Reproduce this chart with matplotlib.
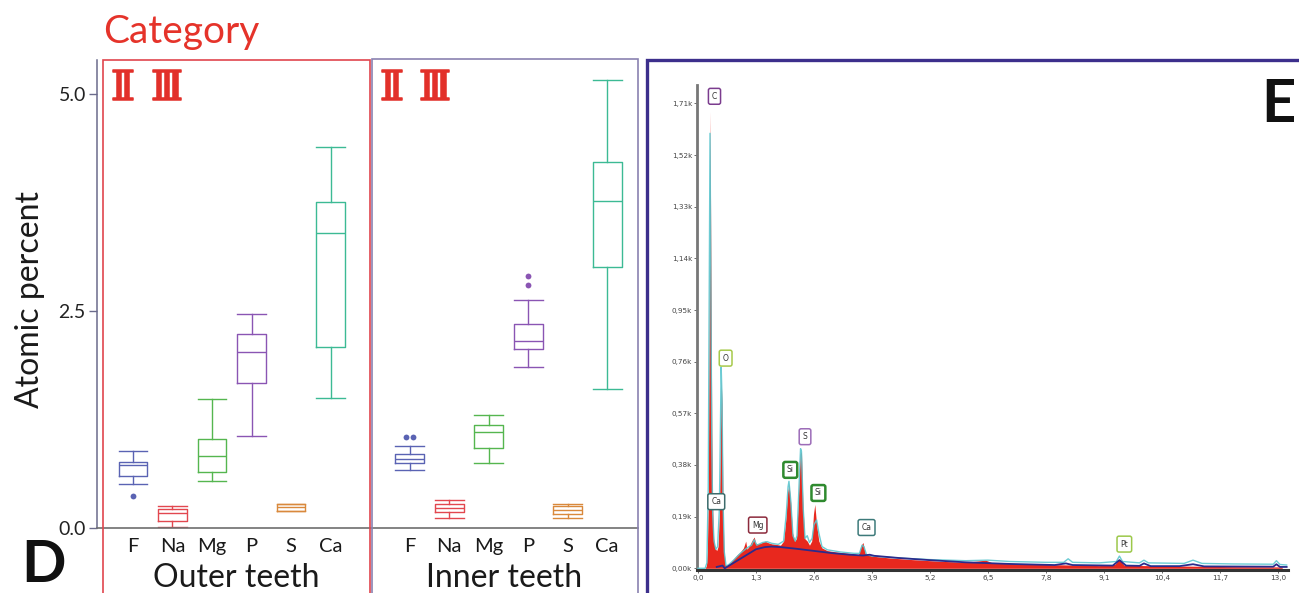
import matplotlib
matplotlib.use("Agg")
import matplotlib.pyplot as plt
import matplotlib.patheffects as pe
from matplotlib.patches import Rectangle

# ---------------------------------------------------------------- data
elements = ["F", "Na", "Mg", "P", "S", "Ca"]
groups = ["Outer teeth", "Inner teeth"]
element_colors = ["#5a63b3", "#e2474f", "#55b64f", "#8a55b3", "#d9893c", "#3cba94"]

# atomic percent box statistics, outer teeth
outer_lo = [0.51, 0.015, 0.54, 1.06, 0.20, 1.50]
outer_q1 = [0.60, 0.08, 0.64, 1.67, 0.20, 2.09]
outer_med = [0.73, 0.17, 0.83, 2.03, 0.24, 3.40]
outer_q3 = [0.76, 0.22, 1.03, 2.23, 0.28, 3.76]
outer_hi = [0.89, 0.25, 1.49, 2.46, 0.28, 4.39]
outer_fliers = [[0.37], [], [], [], [], []]

# atomic percent box statistics, inner teeth
inner_lo = [0.67, 0.11, 0.75, 1.85, 0.11, 1.60]
inner_q1 = [0.745, 0.18, 0.92, 2.06, 0.16, 3.01]
inner_med = [0.79, 0.23, 1.10, 2.15, 0.21, 3.77]
inner_q3 = [0.85, 0.28, 1.19, 2.35, 0.25, 4.21]
inner_hi = [0.95, 0.32, 1.30, 2.63, 0.28, 5.16]
inner_fliers = [[1.045, 1.045], [], [], [2.80, 2.90], [], []]

y_ticks = [0.0, 2.5, 5.0]
y_ticklabels = ["0.0", "2.5", "5.0"]
category_marks = ["\u2161", "\u2162"]

# EDS spectrum (energy in keV, counts in thousands)
meas_keV = [0.00, 0.16, 0.19, 0.21, 0.23, 0.25, 0.27, 0.29, 0.31, 0.33, 0.35, 0.38,
            0.42, 0.45, 0.48, 0.50, 0.52, 0.54, 0.56, 0.58, 0.61, 0.65, 0.72, 0.80,
            0.88, 0.95, 1.02, 1.07, 1.10, 1.16, 1.22, 1.26, 1.30, 1.40, 1.50, 1.56,
            1.65, 1.75, 1.85, 1.92, 1.97, 2.01, 2.04, 2.08, 2.12, 2.17, 2.21, 2.25,
            2.29, 2.32, 2.35, 2.39, 2.45, 2.50, 2.55, 2.59, 2.62, 2.66, 2.71, 2.78,
            2.90, 3.10, 3.40, 3.60, 3.66, 3.70, 3.75, 3.90, 4.30, 4.80, 5.40, 6.00,
            6.45, 6.60, 7.20, 7.80, 8.40, 9.00, 9.35, 9.45, 9.55, 10.0, 11.0, 12.0,
            13.1]
meas_k = [0.000, 0.000, 0.010, 0.060, 0.250, 0.900, 1.680, 1.100, 0.500, 0.220, 0.110, 0.075,
          0.065, 0.080, 0.200, 0.450, 0.700, 0.600, 0.250, 0.080, 0.015, 0.010, 0.020, 0.035,
          0.050, 0.060, 0.075, 0.100, 0.070, 0.085, 0.105, 0.115, 0.090, 0.092, 0.100, 0.095,
          0.090, 0.088, 0.085, 0.100, 0.180, 0.280, 0.310, 0.240, 0.130, 0.100, 0.110, 0.250,
          0.420, 0.430, 0.250, 0.110, 0.100, 0.085, 0.100, 0.200, 0.235, 0.160, 0.100, 0.075,
          0.065, 0.060, 0.055, 0.050, 0.085, 0.095, 0.055, 0.045, 0.038, 0.032, 0.026, 0.022,
          0.030, 0.020, 0.017, 0.014, 0.012, 0.010, 0.015, 0.035, 0.012, 0.010, 0.008, 0.006,
          0.005]

fit_keV = [0.00, 0.16, 0.20, 0.23, 0.25, 0.27, 0.29, 0.31, 0.33, 0.36, 0.40, 0.44,
           0.48, 0.50, 0.52, 0.54, 0.56, 0.59, 0.63, 0.70, 0.80, 0.95, 1.10, 1.20,
           1.26, 1.32, 1.45, 1.55, 1.65, 1.80, 1.92, 1.98, 2.02, 2.04, 2.08, 2.13,
           2.18, 2.22, 2.26, 2.30, 2.32, 2.36, 2.40, 2.45, 2.50, 2.56, 2.60, 2.66,
           2.71, 2.78, 2.90, 3.20, 3.50, 3.62, 3.68, 3.72, 3.78, 3.90, 4.50, 5.20,
           6.00, 6.50, 7.00, 7.80, 8.20, 8.30, 8.40, 9.00, 9.38, 9.45, 9.52, 9.90,
           10.0, 10.1, 10.9, 11.1, 11.3, 12.0, 12.9, 12.97, 13.05, 13.2]
fit_k = [0.000, 0.000, 0.020, 0.300, 0.950, 1.600, 1.000, 0.450, 0.200, 0.100, 0.070, 0.080,
         0.220, 0.480, 0.740, 0.620, 0.260, 0.060, 0.008, 0.015, 0.030, 0.055, 0.075, 0.085,
         0.105, 0.085, 0.095, 0.098, 0.092, 0.088, 0.100, 0.200, 0.300, 0.320, 0.250, 0.120,
         0.100, 0.120, 0.280, 0.440, 0.430, 0.220, 0.110, 0.120, 0.095, 0.110, 0.160, 0.178,
         0.130, 0.080, 0.068, 0.060, 0.055, 0.055, 0.085, 0.080, 0.050, 0.045, 0.038, 0.032,
         0.028, 0.030, 0.025, 0.022, 0.022, 0.035, 0.022, 0.020, 0.025, 0.045, 0.025, 0.020,
         0.030, 0.020, 0.018, 0.030, 0.018, 0.016, 0.015, 0.028, 0.014, 0.012]

bg_keV = [0.42, 0.55, 0.60, 0.70, 0.85, 1.00, 1.15, 1.30, 1.50, 1.65, 1.85, 2.20,
          2.60, 3.00, 3.40, 3.70, 3.85, 3.95, 4.50, 5.20, 6.00, 7.00, 8.00, 8.25,
          8.40, 9.30, 9.45, 9.60, 9.90, 10.0, 10.15, 10.8, 11.1, 11.35, 12.9, 12.97,
          13.05, 13.2]
bg_k = [0.005, 0.010, 0.000, 0.010, 0.025, 0.040, 0.055, 0.070, 0.078, 0.080, 0.078, 0.072,
        0.064, 0.056, 0.050, 0.047, 0.050, 0.046, 0.038, 0.030, 0.022, 0.016, 0.012, 0.018,
        0.012, 0.010, 0.030, 0.010, 0.009, 0.018, 0.008, 0.008, 0.015, 0.007, 0.006, 0.015,
        0.005, 0.005]

peak_names = ["C", "O", "Ca", "Mg", "Si", "S", "Si", "Ca", "Pt"]
peak_label_keV = [0.37, 0.62, 0.41, 1.34, 2.07, 2.40, 2.70, 3.78, 9.56]
peak_label_k = [1.736, 0.773, 0.245, 0.159, 0.362, 0.484, 0.277, 0.150, 0.089]
peak_colors = ["#7b3c8e", "#a6c94a", "#3d6b6b", "#8c2a3c", "#2f8a2f",
               "#9c6cb8", "#2f8a2f", "#3d7a7a", "#9cc84a"]
peak_edge_widths = [1.1, 1.1, 1.1, 1.1, 1.8, 1.1, 1.8, 1.1, 1.1]

e_ticks = [0.0, 1.3, 2.6, 3.9, 5.2, 6.5, 7.8, 9.1, 10.4, 11.7, 13.0]
e_ticklabels = ["0,0", "1,3", "2,6", "3,9", "5,2", "6,5", "7,8", "9,1", "10,4", "11,7", "13,0"]
c_ticks = [0.00, 0.19, 0.38, 0.57, 0.76, 0.95, 1.14, 1.33, 1.52, 1.71]
c_ticklabels = ["0,00k", "0,19k", "0,38k", "0,57k", "0,76k", "0,95k",
                "1,14k", "1,33k", "1,52k", "1,71k"]

# ---------------------------------------------------------------- layout helpers
W, H = 1299, 593
SANS = ["Lato", "DejaVu Sans"]
SMALL = ["DejaVu Sans"]


def fx(x):
    return x / W


def fy(y):
    return 1 - y / H


fig = plt.figure(figsize=(W / 100, H / 100), dpi=100)
fig.patch.set_facecolor("white")

# ---------------------------------------------------------------- panel D: box plots
ax = fig.add_axes([fx(97), fy(528), fx(638) - fx(97), fy(60) - fy(528)])
ax.set_facecolor("none")
ax.set_xlim(-0.91, 12.78)
ax.set_ylim(0, 5.39)

n = len(elements)
positions = list(range(n)) + [i + n + 1 for i in range(n)]
stats = []
for lo, q1, med, q3, hi in [(outer_lo, outer_q1, outer_med, outer_q3, outer_hi),
                            (inner_lo, inner_q1, inner_med, inner_q3, inner_hi)]:
    for i in range(n):
        stats.append(dict(whislo=lo[i], q1=q1[i], med=med[i], q3=q3[i], whishi=hi[i], fliers=[]))

bw = 0.73
res = ax.bxp(stats, positions=positions, widths=bw, capwidths=bw, showfliers=False,
             patch_artist=False, manage_ticks=False)
colors = element_colors * 2
for k, c in enumerate(colors):
    res["boxes"][k].set(color=c, linewidth=1.0)
    res["medians"][k].set(color=c, linewidth=1.0)
    for j in (2 * k, 2 * k + 1):
        res["whiskers"][j].set(color=c, linewidth=1.0)
        res["caps"][j].set(color=c, linewidth=1.0)

# outliers; coincident values are spread sideways
for fl_group, offset in [(outer_fliers, 0), (inner_fliers, n + 1)]:
    for i, vals in enumerate(fl_group):
        seen = {}
        for v in vals:
            seen.setdefault(v, 0)
            seen[v] += 1
        for v, cnt in seen.items():
            xs = [i + offset + (j - (cnt - 1) / 2) * 0.18 for j in range(cnt)]
            ax.plot(xs, [v] * cnt, "o", color=element_colors[i], markersize=4.2,
                    markeredgewidth=0, zorder=3)

for s in ("top", "right"):
    ax.spines[s].set_visible(False)
ax.spines["left"].set_color("#6b6b8c")
ax.spines["left"].set_linewidth(1.1)
ax.spines["bottom"].set_color("#6e6e6e")
ax.spines["bottom"].set_linewidth(1.2)

ax.set_yticks(y_ticks, y_ticklabels, fontsize=14, family=SANS, color="#222222")
ax.tick_params(axis="y", length=6, width=1.0, color="#6b6b8c", pad=2)
ax.set_xticks(positions, elements * 2, fontsize=14.5, family=SANS, color="#1a1a1a")
ax.tick_params(axis="x", length=0, pad=7)

fig.text(fx(30), fy(299), "Atomic percent", rotation=90, fontsize=23, family=SANS,
         ha="center", va="center", color="#1a1a1a")
fig.text(fx(103), fy(43.5), "Category", fontsize=28, family=SANS, color="#e5332a",
         ha="left", va="baseline")
for gx, name in zip([236, 504], groups):
    fig.text(fx(gx), fy(587), name, fontsize=23, family=SANS, color="#1a1a1a",
             ha="center", va="baseline")

# category numerals in each panel, slightly emboldened
for x2, x3 in [(111, 151), (380, 419)]:
    for xm, mark in zip((x2, x3), category_marks):
        fig.text(fx(xm), fy(100), mark, fontsize=30, family=["DejaVu Serif"],
                 color="#e2302a", ha="left", va="baseline",
                 path_effects=[pe.withStroke(linewidth=1.1, foreground="#e2302a")])

fig.text(fx(21), fy(592), "D", fontsize=42, family=SANS, fontweight="bold",
         color="#111111", ha="left", va="bottom")

# panel frames
fig.patches.append(Rectangle((fx(103), fy(620)), fx(370) - fx(103), fy(60) - fy(620),
                             transform=fig.transFigure, fill=False, ec="#e0464e", lw=1.2))
fig.patches.append(Rectangle((fx(371.5), fy(620)), fx(638) - fx(371.5), fy(59) - fy(620),
                             transform=fig.transFigure, fill=False, ec="#8a82b0", lw=1.2))
fig.patches.append(Rectangle((fx(646.5), fy(640)), fx(1330) - fx(646.5), fy(59.5) - fy(640),
                             transform=fig.transFigure, fill=False, ec="#3c2f8c", lw=2.4))

# ---------------------------------------------------------------- panel E: EDS spectrum
ax2 = fig.add_axes([fx(697), fy(570), fx(1288) - fx(697), fy(85) - fy(570)])
ax2.set_facecolor("none")
ax2.set_xlim(-0.022, 13.23)
ax2.set_ylim(-0.00625, 1.7776)

ax2.fill_between(meas_keV, 0, meas_k, color="#e8281e", linewidth=0, zorder=2)
ax2.plot(fit_keV, fit_k, color="#5cc6cf", linewidth=1.0, alpha=0.9, zorder=3)
ax2.plot(bg_keV, bg_k, color="#2b2b8c", linewidth=1.3, zorder=4)

for name, ex, cy, col, elw in zip(peak_names, peak_label_keV, peak_label_k,
                                  peak_colors, peak_edge_widths):
    ax2.text(ex, cy, name, fontsize=5.5, ha="center", va="center", color="#333333",
             family=SMALL, zorder=5,
             bbox=dict(boxstyle="round,pad=0.45,rounding_size=0.25", fc="white",
                       ec=col, lw=elw))

for s in ("top", "right"):
    ax2.spines[s].set_visible(False)
ax2.spines["left"].set_color("#777777")
ax2.spines["left"].set_linewidth(2.0)
ax2.spines["bottom"].set_color("#333333")
ax2.spines["bottom"].set_linewidth(2.2)
ax2.set_xticks(e_ticks, e_ticklabels, fontsize=5.2, family=SMALL, color="#444444")
ax2.set_yticks(c_ticks, c_ticklabels, fontsize=5.2, family=SMALL, color="#444444")
ax2.tick_params(length=2, width=0.6, color="#555555", pad=1.5)

fig.text(fx(1261), fy(122), "E", fontsize=43, family=SANS, fontweight="bold",
         color="#111111", ha="left", va="baseline")

fig.savefig("out.png", dpi=100, facecolor="white")
